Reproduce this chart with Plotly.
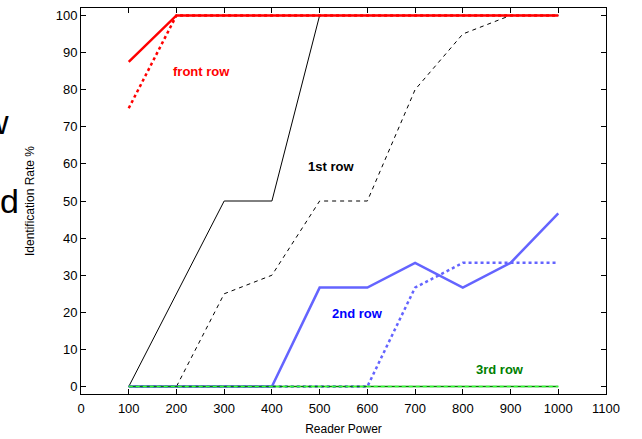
import plotly.graph_objects as go

power = [100, 200, 300, 400, 500, 600, 700, 800, 900, 1000]
front_solid = [87.5, 100, 100, 100, 100, 100, 100, 100, 100, 100]
front_dot = [75, 100, 100, 100, 100, 100, 100, 100, 100, 100]
first_solid = [0, 25, 50, 50, 100, 100, 100, 100, 100, 100]
first_dash = [0, 0, 25, 30, 50, 50, 80, 95, 100, 100]
second_solid = [0, 0, 0, 0, 26.67, 26.67, 33.33, 26.67, 33.33, 46.67]
second_dot = [0, 0, 0, 0, 0, 0, 26.67, 33.33, 33.33, 33.33]
third_solid = [0, 0, 0, 0, 0, 0, 0, 0, 0, 0]
third_dash = [0, 0, 0, 0, 0, 0, 0, 0, 0, 0]

xticks = list(range(0, 1101, 100))
yticks = list(range(0, 101, 10))

FONT = "Liberation Sans, Arial, sans-serif"
W, H = 642, 439
L, T, R, B = 81, 8, 36, 45
PW, PH = W - L - R, H - T - B

def px(x):
    return (x - L) / PW

def py(y):
    return (T + PH - y) / PH

fig = go.Figure()

def add(y, color, width, dash):
    fig.add_trace(go.Scatter(x=power, y=y, mode="lines",
                             line=dict(color=color, width=width, dash=dash),
                             showlegend=False, hoverinfo="skip"))

add(first_solid, "black", 1, "solid")
add(first_dash, "black", 1, "4px,4px")
add(second_solid, "#6464ff", 2.5, "solid")
add(second_dot, "#6464ff", 2.5, "dot")
add(third_solid, "#008000", 1.5, "solid")
add(third_dash, "#33ff33", 1.5, "4px,3px")
add(front_solid, "#ff0000", 2.5, "solid")
add(front_dot, "#ff0000", 2.5, "dot")

labels = [("front row", 252, 85, "#ff0000"),
          ("1st row", 524, 59.2, "black"),
          ("2nd row", 580, 19.8, "#0000ff"),
          ("3rd row", 877, 4.5, "#008000")]
for t, x, y, c in labels:
    fig.add_annotation(x=x, y=y, text="<b>%s</b>" % t, showarrow=False,
                       font=dict(family=FONT, size=13, color=c))

# text fragments cut by the left edge of the picture
fig.add_annotation(xref="paper", yref="paper", x=px(-2), y=py(201),
                   xanchor="left", yanchor="middle", text="d", showarrow=False,
                   font=dict(family=FONT, size=34, color="black"))
fig.add_annotation(xref="paper", yref="paper", x=px(11), y=py(121.5),
                   xanchor="right", yanchor="middle", text="w", showarrow=False,
                   font=dict(family=FONT, size=34, color="black"))

axis_common = dict(showgrid=False, zeroline=False, showline=True, linecolor="black",
                   linewidth=1, mirror="ticks", ticks="inside", ticklen=5,
                   tickcolor="black", tickfont=dict(family=FONT, size=13, color="black"))

fig.update_xaxes(range=[0, 1100], tickvals=xticks, ticktext=[str(v) for v in xticks],
                 ticklabelstandoff=2,
                 title=dict(text="Reader Power", font=dict(family=FONT, size=12, color="black"),
                            standoff=10), **axis_common)
fig.update_yaxes(range=[-2, 102], tickvals=yticks, ticktext=[str(v) for v in yticks],
                 title=dict(text="Identification Rate %", font=dict(family=FONT, size=12, color="black"),
                            standoff=18), **axis_common)

fig.update_layout(width=W, height=H, margin=dict(l=L, r=R, t=T, b=B, autoexpand=False),
                  plot_bgcolor="white", paper_bgcolor="white",
                  font=dict(family=FONT))

fig.write_html("out.html", config={"displayModeBar": False},
               post_script="document.body.style.margin='0';")
